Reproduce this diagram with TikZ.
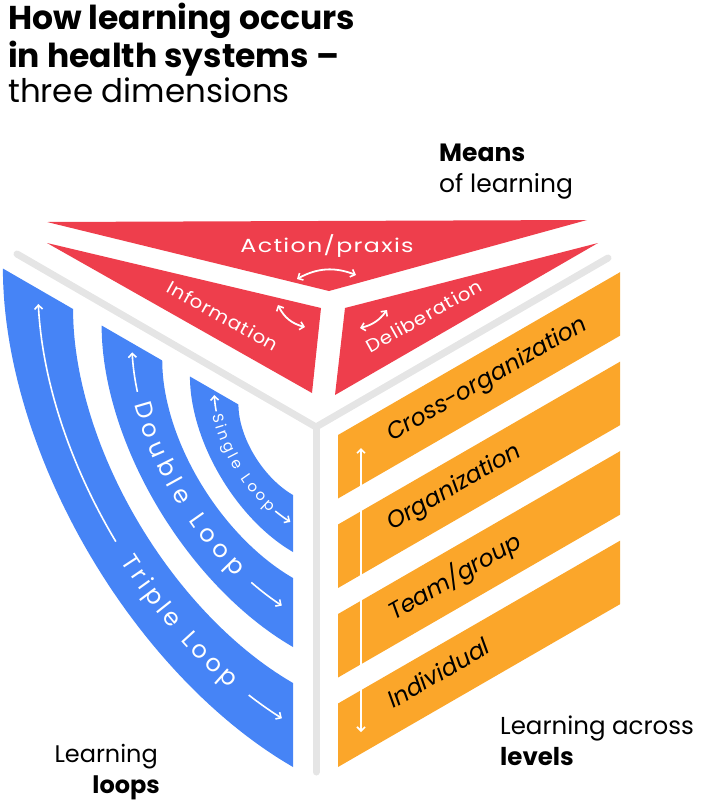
\documentclass[tikz,border=0pt]{standalone}
\usepackage{fontspec}
\setmainfont{Poppins}
\newfontfamily\widefont[FakeStretch=1.25,LetterSpace=7]{Poppins}
\newfontfamily\midfont[FakeStretch=1.1,LetterSpace=5]{Poppins}
\usetikzlibrary{arrows.meta,decorations.text}
\definecolor{cred}{RGB}{238,62,76}
\definecolor{cblue}{RGB}{70,132,246}
\definecolor{corange}{RGB}{251,166,42}
\definecolor{cgray}{RGB}{229,229,229}
\newcommand{\mybandq}[4]{%
  \fill[bandB] plot[domain=0:90,samples=60,variable=\t] ({293-0.866*#1*cos(\t)},{436-0.5*#1*cos(\t)+#2*sin(\t)})
   -- plot[domain=90:0,samples=60,variable=\t] ({293-0.866*#3*cos(\t)},{436-0.5*#3*cos(\t)+#4*sin(\t)}) -- cycle;}
\newcommand{\myarcpath}[4]{plot[domain=#3:#4,samples=40,variable=\t] ({293-0.866*#1*cos(\t)},{436-0.5*#1*cos(\t)+#2*sin(\t)})}
\begin{document}
\begin{tikzpicture}[x=1pt,y=-1pt,
  edge/.style={draw=cgray,line width=7pt,line cap=round},
  redtri/.style={fill=cred},
  bandB/.style={fill=cblue},
  bandO/.style={fill=corange},
  txt/.style={inner sep=0pt,anchor=base west,text=black},
  redlbl/.style={inner sep=0pt,text=white,font=\midfont\fontsize{18}{18}\selectfont},
  orlbl/.style={inner sep=0pt,anchor=base west,rotate=30,text=black,font=\itshape\fontsize{23.5}{23.5}\selectfont},
  barb/.tip={Straight Barb[length=4pt,width=8pt,line width=1.6pt]},
  warr/.style={draw=white,line width=1.6pt,-barb},
  wdarr/.style={draw=white,line width=1.8pt,barb-barb},
  looptext/.style={decorate,decoration={text along path,text align=fit to path,text={#1}}}
]
\useasboundingbox (0,0) rectangle (709,801);

% title
\node[txt,font=\fontsize{33}{33}\selectfont\bfseries] (t1) at (8,29) {How learning occurs};
\node[txt,font=\fontsize{33}{33}\selectfont\bfseries] (t2) at (8,67) {in health systems –};
\node[txt,font=\fontsize{32.5}{33}\selectfont] (t3) at (8,102) {three dimensions};

% means of learning
\node[txt,font=\fontsize{25}{25}\selectfont\bfseries] (m1) at (439,161) {Means};
\node[txt,font=\fontsize{25}{25}\selectfont] (m2) at (439,192) {of learning};

% red triangles
\fill[redtri] (47,222) -- (587,220) -- (329,291) -- cycle;
\fill[redtri] (47,243) -- (321,308) -- (312,393) -- cycle;
\fill[redtri] (598,243) -- (345,308) -- (335,395) -- cycle;
\node[redlbl,anchor=base,font=\widefont\fontsize{19}{19}\selectfont] (ap) at (327,252) {Action/praxis};
\node[redlbl,rotate=-29] (inf) at (223,316) {Information};
\node[redlbl,rotate=29] (del) at (424,316) {Deliberation};
\coordinate (ra1) at (297,279); \coordinate (ra2) at (356,275);
\coordinate (rb1) at (278,305); \coordinate (rb2) at (305,327);
\coordinate (rc1) at (360,328); \coordinate (rc2) at (387,310);
\draw[wdarr] (ra1) to[bend left=25] (ra2);
\draw[wdarr] (rb1) to[bend right=25] (rb2);
\draw[wdarr] (rc1) to[bend right=20] (rc2);

% cube edges
\coordinate (ctr) at (316,427);
\coordinate (eL) at (17,254);
\coordinate (eR) at (608,258);
\coordinate (eB) at (316,772);
\draw[edge] (eL) -- (ctr) -- (eR);
\draw[edge] (ctr) -- (eB);

% orange bands
\foreach \yl in {435,524.5,614,703.5}{
  \fill[bandO] (338,\yl) -- (620,\yl-162.8) -- (620,\yl-99.3) -- (338,\yl+63.5) -- cycle;
}
\coordinate (va1) at (361,448); \coordinate (va2) at (361,732);
\draw[white,line width=2.2pt,barb-barb] (va1) -- (va2);
\node[orlbl] (co) at (392,442) {Cross-organization};
\node[orlbl] (og) at (392,531) {Organization};
\node[orlbl] (tg) at (394,621) {Team/group};
\node[orlbl] (iv) at (393,709) {Individual};

% blue bands
\mybandq{335}{331}{254}{247}
\mybandq{221}{211}{151}{142}
\mybandq{119}{116}{63}{59}

% triple loop
\draw[warr] \myarcpath{294.5}{289}{46}{3};
\path[looptext={|\color{white}\fontsize{24}{24}\selectfont|Triple Loop}] \myarcpath{303}{298}{49}{76};
\draw[warr] \myarcpath{294.5}{289}{80}{87.5};
% double loop
\draw[warr] \myarcpath{186}{176.5}{15}{3};
\path[looptext={|\color{white}\fontsize{24}{24}\selectfont|Double Loop}] \myarcpath{194}{185}{19}{70};
\draw[warr] \myarcpath{186}{176.5}{75}{86};
% single loop
\draw[warr] \myarcpath{91}{87.5}{13}{3};
\path[looptext={|\color{white}\fontsize{15}{15}\selectfont|Single Loop}] \myarcpath{96.5}{93}{16}{74};
\draw[warr] \myarcpath{91}{87.5}{77}{88};

% bottom labels
\node[txt,anchor=base east,font=\fontsize{24}{24}\selectfont] (ll1) at (158,762) {Learning};
\node[txt,anchor=base east,font=\fontsize{24}{24}\selectfont\bfseries] (ll2) at (160,793) {loops};
\node[txt,font=\fontsize{24.5}{24.5}\selectfont] (la1) at (500,734) {Learning across};
\node[txt,font=\fontsize{24.5}{24.5}\selectfont\bfseries] (la2) at (500,765) {levels};
\end{tikzpicture}
\end{document}
